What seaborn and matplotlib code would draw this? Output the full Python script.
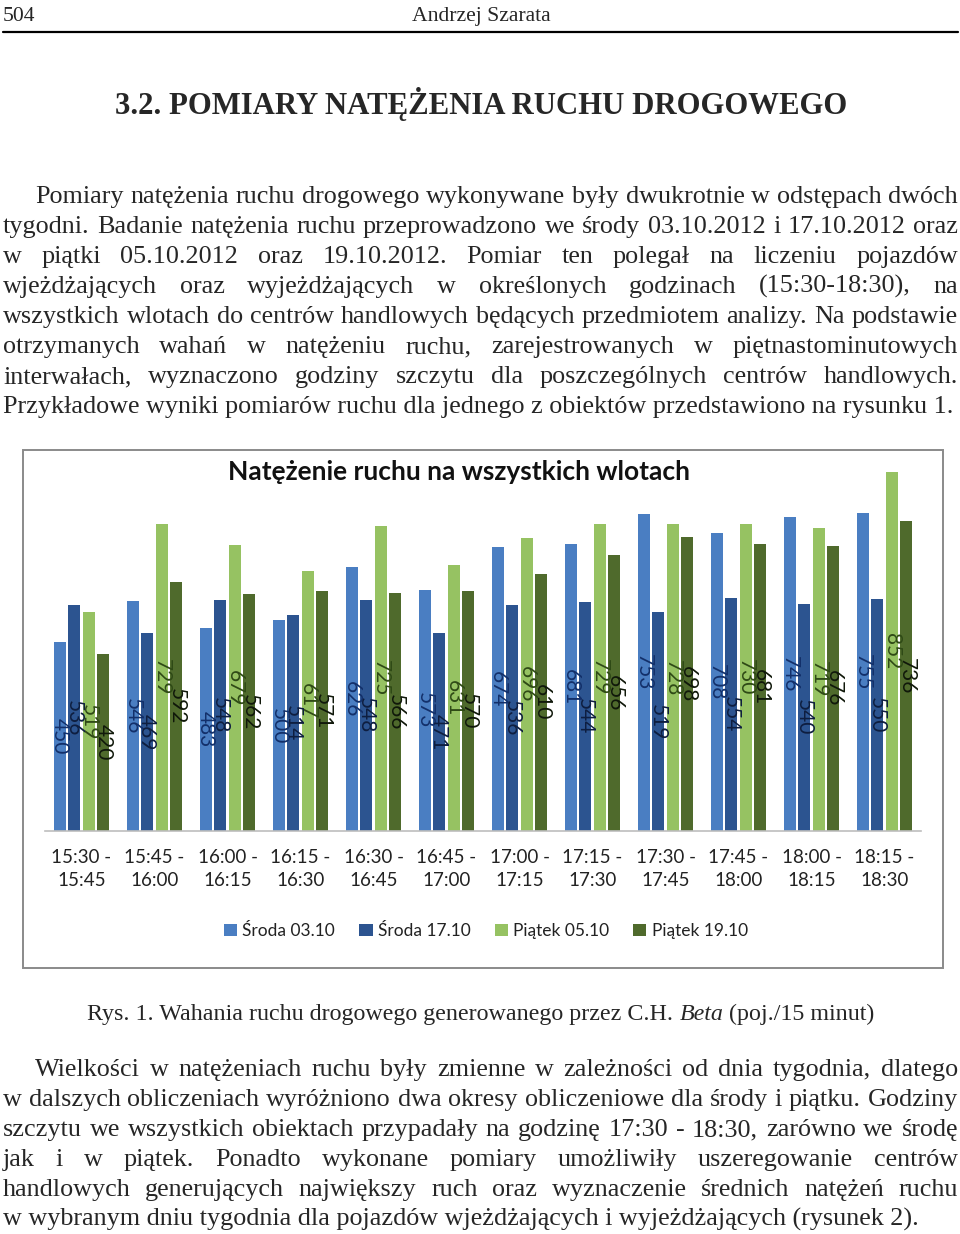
import matplotlib
matplotlib.use("Agg")
import matplotlib.pyplot as plt
from matplotlib.patches import Patch, Rectangle
from matplotlib.lines import Line2D
import pandas as pd
import seaborn as sns

# Data (vehicles / 15 min)
intervals = ["15:30 -\n15:45", "15:45 -\n16:00", "16:00 -\n16:15", "16:15 -\n16:30",
             "16:30 -\n16:45", "16:45 -\n17:00", "17:00 -\n17:15", "17:15 -\n17:30",
             "17:30 -\n17:45", "17:45 -\n18:00", "18:00 -\n18:15", "18:15 -\n18:30"]
series_names = ["Środa 03.10", "Środa 17.10", "Piątek 05.10", "Piątek 19.10"]
sroda_0310 = [450, 546, 483, 500, 626, 573, 674, 681, 753, 708, 746, 755]
sroda_1710 = [536, 469, 548, 514, 548, 471, 536, 544, 519, 554, 540, 550]
piatek_0510 = [519, 729, 679, 617, 725, 631, 696, 729, 728, 730, 719, 852]
piatek_1910 = [420, 592, 562, 571, 566, 570, 610, 656, 698, 681, 676, 736]

bar_colors = ["#4A7EC2", "#2C5490", "#96C262", "#4F6A2C"]
label_colors = ["#13306A", "#0E1E40", "#2F4A16", "#10180A"]

para1 = [
    "Pomiary natężenia ruchu drogowego wykonywane były dwukrotnie w odstępach dwóch",
    "tygodni. Badanie natężenia ruchu przeprowadzono we środy 03.10.2012 i 17.10.2012 oraz",
    "w piątki 05.10.2012 oraz 19.10.2012. Pomiar ten polegał na liczeniu pojazdów",
    "wjeżdżających oraz wyjeżdżających w określonych godzinach (15:30-18:30), na",
    "wszystkich wlotach do centrów handlowych będących przedmiotem analizy. Na podstawie",
    "otrzymanych wahań w natężeniu ruchu, zarejestrowanych w piętnastominutowych",
    "interwałach, wyznaczono godziny szczytu dla poszczególnych centrów handlowych.",
    "Przykładowe wyniki pomiarów ruchu dla jednego z obiektów przedstawiono na rysunku 1.",
]
para2 = [
    "Wielkości w natężeniach ruchu były zmienne w zależności od dnia tygodnia, dlatego",
    "w dalszych obliczeniach wyróżniono dwa okresy obliczeniowe dla środy i piątku. Godziny",
    "szczytu we wszystkich obiektach przypadały na godzinę 17:30 - 18:30, zarówno we środę",
    "jak i w piątek. Ponadto wykonane pomiary umożliwiły uszeregowanie centrów",
    "handlowych generujących największy ruch oraz wyznaczenie średnich natężeń ruchu",
    "w wybranym dniu tygodnia dla pojazdów wjeżdżających i wyjeżdżających (rysunek 2).",
]

# long table for seaborn
rows = []
for name, vals in zip(series_names, [sroda_0310, sroda_1710, piatek_0510, piatek_1910]):
    for iv, v in zip(intervals, vals):
        rows.append({"przedzial": iv, "seria": name, "wartosc": v})
df = pd.DataFrame(rows)

sns.set_style("white")
W, H = 960, 1234
fig = plt.figure(figsize=(W / 100, H / 100), dpi=100)
renderer = fig.canvas.get_renderer()
SERIF = "Liberation Serif"


def fx(x):
    return x / W


def fy(y):
    return 1 - y / H


def text_width(s, size, **kw):
    t = fig.text(0, 0, s, fontsize=size, **kw)
    w = t.get_window_extent(renderer).width
    t.remove()
    return w


def fit_size(s, target, **kw):
    return 20 * target / text_width(s, 20, **kw)


def put_line(s, y, x0, x1, size, justify=True, **kw):
    if not justify:
        fig.text(fx(x0), fy(y), s, fontsize=size, va="baseline", ha="left", **kw)
        return
    words = s.split(" ")
    texts = [fig.text(0, fy(y), w, fontsize=size, va="baseline", ha="left", **kw) for w in words]
    widths = [t.get_window_extent(renderer).width for t in texts]
    gap = (x1 - x0 - sum(widths)) / (len(words) - 1)
    x = x0
    for t, w in zip(texts, widths):
        t.set_x(fx(x))
        x += w + gap


# page header
hs = fit_size("Andrzej Szarata", 139, family=SERIF)
fig.text(fx(3), fy(21), "504", fontsize=hs, family=SERIF, va="baseline")
fig.text(fx(481), fy(21), "Andrzej Szarata", fontsize=hs, family=SERIF, va="baseline", ha="center")
fig.add_artist(Line2D([fx(3), fx(958)], [fy(32), fy(32)], color="black", lw=1.6,
                      transform=fig.transFigure))

heading = "3.2. POMIARY NATĘŻENIA RUCHU DROGOWEGO"
fig.text(fx(481), fy(114), heading, family=SERIF, weight="bold", ha="center", va="baseline",
         fontsize=fit_size(heading, 732, family=SERIF, weight="bold"))

# body text
body = fit_size(para1[-1], 949, family=SERIF)
for i, s in enumerate(para1):
    x0 = 35 if i == 0 else 3
    put_line(s, 203 + 30 * i, x0, 958, body, justify=(i < len(para1) - 1), family=SERIF)
for i, s in enumerate(para2):
    x0 = 35 if i == 0 else 3
    put_line(s, 1076 + 30 * i, x0, 958, body, justify=(i < len(para2) - 1), family=SERIF)

# caption with italic name
cap_a = "Rys. 1. Wahania ruchu drogowego generowanego przez C.H. "
cap_b = "Beta"
cap_c = " (poj./15 minut)"
cs = fit_size(cap_a + cap_b + cap_c, 787, family=SERIF)
wa = text_width(cap_a, cs, family=SERIF)
wb = text_width(cap_b, cs, family=SERIF, style="italic")
wc = text_width(cap_c, cs, family=SERIF)
x = 481 - (wa + wb + wc) / 2
fig.text(fx(x), fy(1020), cap_a, fontsize=cs, family=SERIF, va="baseline")
fig.text(fx(x + wa), fy(1020), cap_b, fontsize=cs, family=SERIF, style="italic", va="baseline")
fig.text(fx(x + wa + wb), fy(1020), cap_c, fontsize=cs, family=SERIF, va="baseline")

# chart frame
fig.add_artist(Rectangle((fx(23), fy(968)), (943 - 23) / W, (968 - 450) / H, fill=False,
                         edgecolor="#8a8a8a", lw=1.4, transform=fig.transFigure))
title = "Natężenie ruchu na wszystkich wlotach"
fig.text(fx(459), fy(472), title, family="Lato", weight="bold", ha="center", va="center",
         fontsize=fit_size(title, 462, family="Lato", weight="bold"), color="#111111")

ax = fig.add_axes([fx(45), fy(831), 876 / W, 379 / H])
ax.set_facecolor("none")
sns.barplot(data=df, x="przedzial", y="wartosc", hue="seria", palette=bar_colors,
            width=0.8, saturation=1, legend=False, ax=ax)

for patch in ax.patches:
    c = patch.get_x() + patch.get_width() / 2
    patch.set_width(0.165)
    patch.set_x(c - 0.0825)
    patch.set_edgecolor("none")

for cont, col in zip(ax.containers, label_colors):
    ax.bar_label(cont, label_type="center", rotation=270, fontsize=15, color=col,
                 family="Lato")

ax.set_xlim(-0.5, 11.5)
ax.set_ylim(0, 900)
ax.set_yticks([])
ax.set_xlabel("")
ax.set_ylabel("")
for side in ["top", "left", "right"]:
    ax.spines[side].set_visible(False)
ax.spines["bottom"].set_color("#bdbdbd")
ax.spines["bottom"].set_linewidth(1.2)
ax.tick_params(axis="x", length=0, pad=13, labelsize=13.5, labelcolor="#222222")
for lab in ax.get_xticklabels():
    lab.set_family("Lato")
    lab.set_linespacing(1.45)

handles = [Patch(facecolor=c, edgecolor="none") for c in bar_colors]
fig.legend(handles, series_names, loc="center", bbox_to_anchor=(fx(486), fy(931)), ncol=4,
           frameon=False, prop={"family": "Lato", "size": 12.5}, handlelength=0.75,
           handleheight=0.75, handletextpad=0.3, columnspacing=1.4, labelcolor="#222222")

fig.savefig("out.png", dpi=100, facecolor="white")
